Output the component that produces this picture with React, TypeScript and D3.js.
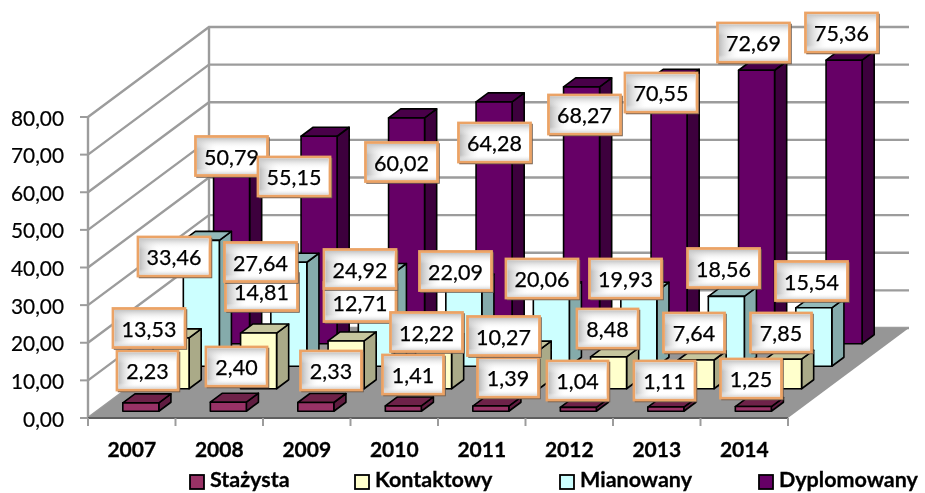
import * as d3 from "d3";

const years = ["2007", "2008", "2009", "2010", "2011", "2012", "2013", "2014"];
const seriesNames = ["Stażysta", "Kontaktowy", "Mianowany", "Dyplomowany"];

const stazysta = [2.23, 2.4, 2.33, 1.41, 1.39, 1.04, 1.11, 1.25];
const kontaktowy = [13.53, 14.81, 12.71, 12.22, 10.27, 8.48, 7.64, 7.85];
const mianowany = [33.46, 27.64, 24.92, 22.09, 20.06, 19.93, 18.56, 15.54];
const dyplomowany = [50.79, 55.15, 60.02, 64.28, 68.27, 70.55, 72.69, 75.36];
const seriesValues = [stazysta, kontaktowy, mianowany, dyplomowany];

// the labels were dragged by hand in the original, so they sit where they sit
const labelCx = [
  [147.5, 236.5, 331, 413, 508, 577.5, 664.5, 751],
  [149, 261.5, 360, 426.5, 503.5, 607.5, 694, 781],
  [174, 260.5, 360, 455.5, 542, 625.5, 723.5, 811.5],
  [231.5, 294, 401.5, 494.5, 584.5, 661, 753.5, 841.5],
];
const labelCy = [
  [370.5, 366.5, 370.5, 374.5, 377.5, 380.5, 380.5, 378.5],
  [328, 291, 302, 332, 336, 328.5, 332.5, 332.5],
  [256.5, 262, 269, 271, 278.5, 278.5, 268, 281],
  [156, 176.5, 162, 142.5, 114.5, 92.5, 42.5, 32.5],
];

const faceColors = ["#993366", "#FFFFCC", "#CCFFFF", "#660066"];
const topColors = ["#6E2449", "#C6C69E", "#93BABA", "#4A004A"];
const sideColors = ["#5E1F3F", "#AAAA88", "#85ABAB", "#3D003D"];
const legendX = [190, 355, 560, 759];

const width = 925;
const height = 493;
const x0 = 88;
const x1 = 788;
const floorY = 418;
const depthX = 121;
const depthY = 90;
const barWidth = 36;

const x = d3.scaleBand<string>().domain(years).range([x0, x1]).paddingInner(0).paddingOuter(0);
const y = d3.scaleLinear().domain([0, 80]).range([floorY, 117]);
const depth = d3.scaleBand<string>().domain(seriesNames).range([0, 1]);
const ticks = d3.range(0, 81, 10);
const fmt = (v: number) => d3.format(".2f")(v).replace(".", ",");

const pt = (px: number, py: number) => `${px},${py}`;

function Bar({ cat, si, value }: { cat: string; si: number; value: number }) {
  const d0 = depth(seriesNames[si])! + depth.bandwidth() * 0.3;
  const d1 = d0 + depth.bandwidth() * 0.4;
  const left = x(cat)! + (x.bandwidth() - barWidth) / 2 + d0 * depthX;
  const right = left + barWidth;
  const bottom = floorY - d0 * depthY;
  const top = bottom - (floorY - y(value));
  const dx = (d1 - d0) * depthX;
  const dy = (d1 - d0) * depthY;
  const line = { stroke: "#000", strokeWidth: 1.6, strokeLinejoin: "round" as const };
  return (
    <g>
      <polygon
        points={[pt(right, top), pt(right + dx, top - dy), pt(right + dx, bottom - dy), pt(right, bottom)].join(" ")}
        fill={sideColors[si]}
        {...line}
      />
      <polygon
        points={[pt(left, top), pt(left + dx, top - dy), pt(right + dx, top - dy), pt(right, top)].join(" ")}
        fill={topColors[si]}
        {...line}
      />
      <rect x={left} y={top} width={barWidth} height={bottom - top} fill={faceColors[si]} {...line} />
    </g>
  );
}

function Label({ cx, cy, value }: { cx: number; cy: number; value: number }) {
  const text = fmt(value);
  const w = text.length > 4 ? 72 : 61;
  const h = 39;
  const bx = cx - w / 2;
  const by = cy - h / 2;
  return (
    <g>
      <rect x={bx + 1.5} y={by + 1.5} width={w} height={h} fill="none" stroke="#6b5a4c" strokeWidth={1.5} />
      <rect x={bx} y={by} width={w} height={h} fill="#fff" stroke="#EBA366" strokeWidth={2.8} />
      <rect x={bx + 1.5} y={by + 1.5} width={w - 3} height={h - 3} fill="url(#bevelLeft)" />
      <rect x={bx + 1.5} y={by + 1.5} width={w - 3} height={h - 3} fill="url(#bevelTop)" />
      <text
        x={cx}
        y={cy + 0.5}
        textAnchor="middle"
        dominantBaseline="central"
        fontSize={21.5}
        fill="#000"
        stroke="#000"
        strokeWidth={0.25}
      >
        {text}
      </text>
    </g>
  );
}

export default function App() {
  const backLeft = x0 + depthX;
  const backRight = x1 + depthX;
  const backFloor = floorY - depthY;
  const backY = (v: number) => y(v) - depthY;

  return (
    <svg
      width={width}
      height={height}
      style={{ position: "fixed", left: 0, top: 0, background: "#fff" }}
      fontFamily="Lato, 'Open Sans', sans-serif"
    >
      <defs>
        <linearGradient id="bevelLeft" x1="0" x2="1" y1="0" y2="0">
          <stop offset="0" stopColor="#bdbdbd" />
          <stop offset="0.3" stopColor="#fff" stopOpacity={0} />
        </linearGradient>
        <linearGradient id="bevelTop" x1="0" x2="0" y1="0" y2="1">
          <stop offset="0" stopColor="#c4c4c4" />
          <stop offset="0.3" stopColor="#fff" stopOpacity={0} />
          <stop offset="0.85" stopColor="#fff" stopOpacity={0} />
          <stop offset="1" stopColor="#d8d8d8" />
        </linearGradient>
        <filter id="soft" x="-2%" y="-2%" width="104%" height="104%">
          <feGaussianBlur stdDeviation={0.45} />
        </filter>
      </defs>

      <g filter="url(#soft)">
        {/* walls */}
        <g stroke="#9C9C9C" strokeWidth={2.4} fill="none">
          {ticks.map((t) => (
            <polyline
              key={t}
              points={[pt(x0, y(t)), pt(backLeft, backY(t)), pt(backRight, backY(t))].join(" ")}
            />
          ))}
          <line x1={x0} x2={x0} y1={y(0)} y2={y(80)} />
          <line x1={backLeft} x2={backLeft} y1={backFloor} y2={backY(80)} />
        </g>

        {/* floor */}
        <polygon
          points={[pt(x0, floorY), pt(backLeft, backFloor), pt(backRight, backFloor), pt(x1, floorY)].join(" ")}
          fill="#969696"
        />
        <line x1={x0} x2={x1} y1={floorY} y2={floorY} stroke="#5f5f5f" strokeWidth={2} />

        {/* axis ticks */}
        <g stroke="#9C9C9C" strokeWidth={2}>
          {ticks.map((t) => (
            <line key={t} x1={x0 - 8} x2={x0} y1={y(t)} y2={y(t)} />
          ))}
          {[...years.map((c) => x(c)!), x1].map((tx) => (
            <line key={tx} x1={tx} x2={tx} y1={floorY} y2={floorY + 8} />
          ))}
        </g>

        {/* bars, back to front */}
        {d3.range(3, -1, -1).map((si) => (
          <g key={si}>
            {years.map((c, i) => (
              <Bar key={c} cat={c} si={si} value={seriesValues[si][i]} />
            ))}
          </g>
        ))}

        {/* labels */}
        {seriesValues.map((vals, si) =>
          vals.map((v, i) => <Label key={`${si}-${i}`} cx={labelCx[si][i]} cy={labelCy[si][i]} value={v} />),
        )}

        {/* tick labels */}
        <g fontSize={20.8} fill="#000" stroke="#000" strokeWidth={0.2}>
          {ticks.map((t) => (
            <text key={t} x={64} y={y(t)} textAnchor="end" dominantBaseline="central">
              {fmt(t)}
            </text>
          ))}
        </g>
        <g fontSize={21} fontWeight={700} fill="#000" stroke="#000" strokeWidth={0.3}>
          {years.map((c) => (
            <text key={c} x={x(c)! + x.bandwidth() / 2} y={448} textAnchor="middle" dominantBaseline="central">
              {c}
            </text>
          ))}
        </g>

        {/* legend */}
        <g fontSize={21.5} fontWeight={700} fill="#000" stroke="#000" strokeWidth={0.3}>
          {seriesNames.map((name, si) => (
            <g key={name}>
              <rect x={legendX[si]} y={475} width={14} height={14} fill={faceColors[si]} stroke="#000" strokeWidth={1.8} />
              <text x={legendX[si] + 20} y={487}>
                {name}
              </text>
            </g>
          ))}
        </g>
      </g>
    </svg>
  );
}
